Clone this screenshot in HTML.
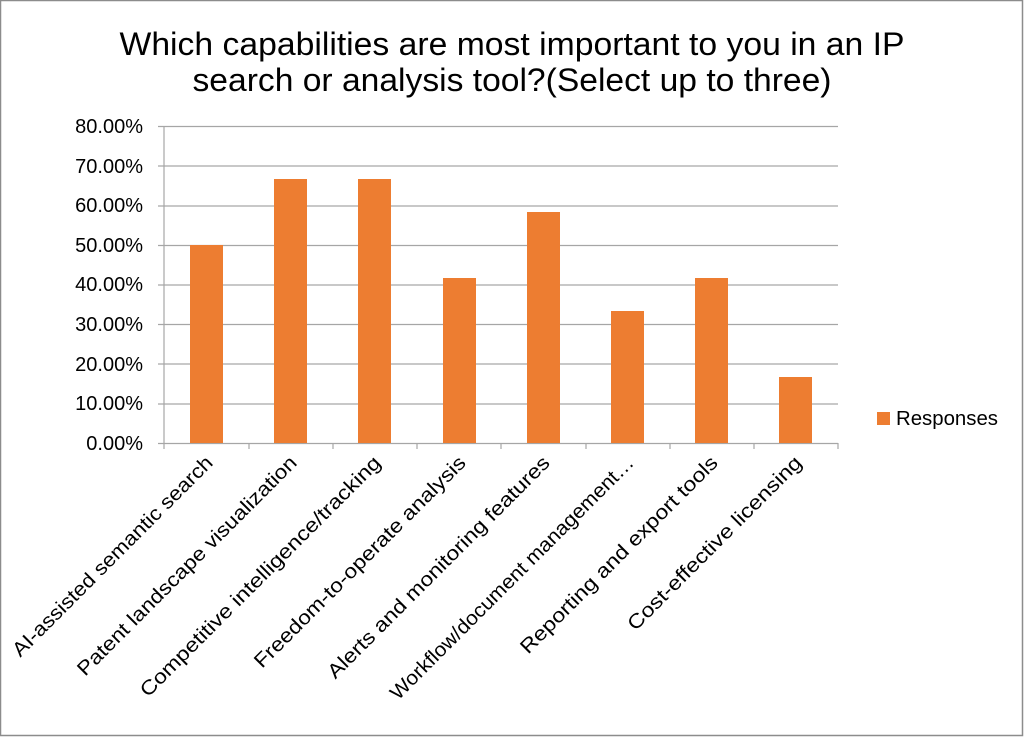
<!DOCTYPE html>
<html><head><style>body{margin:0;background:#fff}</style></head><body>
<svg width="1024" height="737" xmlns="http://www.w3.org/2000/svg" font-family="Liberation Sans, sans-serif">
<rect x="0.5" y="0.5" width="1022" height="735" fill="#fff" stroke="#8c8c8c" stroke-width="1.5"/>
<text x="512" y="55" font-size="32" text-anchor="middle" fill="#000" textLength="785" lengthAdjust="spacingAndGlyphs">Which capabilities are most important to you in an IP</text>
<text x="512" y="91" font-size="32" text-anchor="middle" fill="#000" textLength="639" lengthAdjust="spacingAndGlyphs">search or analysis tool?(Select up to three)</text>
<g stroke="#a6a6a6" stroke-width="1.2">
<line x1="158" y1="126.5" x2="838" y2="126.5"/><line x1="158" y1="166" x2="838" y2="166"/><line x1="158" y1="206" x2="838" y2="206"/><line x1="158" y1="245.5" x2="838" y2="245.5"/><line x1="158" y1="285" x2="838" y2="285"/><line x1="158" y1="324.5" x2="838" y2="324.5"/><line x1="158" y1="364" x2="838" y2="364"/><line x1="158" y1="404" x2="838" y2="404"/><line x1="158" y1="443.5" x2="838" y2="443.5"/>
<line x1="164" y1="126" x2="164" y2="449"/>
<line x1="249" y1="443" x2="249" y2="449"/><line x1="333" y1="443" x2="333" y2="449"/><line x1="417" y1="443" x2="417" y2="449"/><line x1="501" y1="443" x2="501" y2="449"/><line x1="586" y1="443" x2="586" y2="449"/><line x1="670" y1="443" x2="670" y2="449"/><line x1="754" y1="443" x2="754" y2="449"/><line x1="838" y1="443" x2="838" y2="449"/>
</g>
<g font-size="20" text-anchor="end" fill="#000">
<text x="143" y="133">80.00%</text><text x="143" y="173">70.00%</text><text x="143" y="212">60.00%</text><text x="143" y="252">50.00%</text><text x="143" y="291">40.00%</text><text x="143" y="331">30.00%</text><text x="143" y="371">20.00%</text><text x="143" y="410">10.00%</text><text x="143" y="450">0.00%</text>
</g>
<g fill="#ed7d31">
<rect x="190" y="245" width="33" height="198"/>
<rect x="274" y="179" width="33" height="264"/>
<rect x="358" y="179" width="33" height="264"/>
<rect x="443" y="278" width="33" height="165"/>
<rect x="527" y="212" width="33" height="231"/>
<rect x="611" y="311" width="33" height="132"/>
<rect x="695" y="278" width="33" height="165"/>
<rect x="779" y="377" width="33" height="66"/>
<rect x="877" y="412" width="13" height="13"/>
</g>
<text x="896" y="425" font-size="20" fill="#000" textLength="102" lengthAdjust="spacingAndGlyphs">Responses</text>
<g font-size="20" text-anchor="end" fill="#000" lengthAdjust="spacingAndGlyphs">
<text transform="translate(214,464) rotate(-45)" textLength="274" lengthAdjust="spacingAndGlyphs">AI-assisted semantic search</text>
<text transform="translate(298,464) rotate(-45)" textLength="301" lengthAdjust="spacingAndGlyphs">Patent landscape visualization</text>
<text transform="translate(382,464) rotate(-45)" textLength="331" lengthAdjust="spacingAndGlyphs">Competitive intelligence/tracking</text>
<text transform="translate(467,464) rotate(-45)" textLength="290" lengthAdjust="spacingAndGlyphs">Freedom-to-operate analysis</text>
<text transform="translate(551,464) rotate(-45)" textLength="305" lengthAdjust="spacingAndGlyphs">Alerts and monitoring features</text>
<text transform="translate(635,464) rotate(-45)" textLength="335" lengthAdjust="spacingAndGlyphs">Workflow/document management…</text>
<text transform="translate(719,464) rotate(-45)" textLength="270" lengthAdjust="spacingAndGlyphs">Reporting and export tools</text>
<text transform="translate(803,464) rotate(-45)" textLength="237" lengthAdjust="spacingAndGlyphs">Cost-effective licensing</text>
</g>
</svg>
</body></html>
